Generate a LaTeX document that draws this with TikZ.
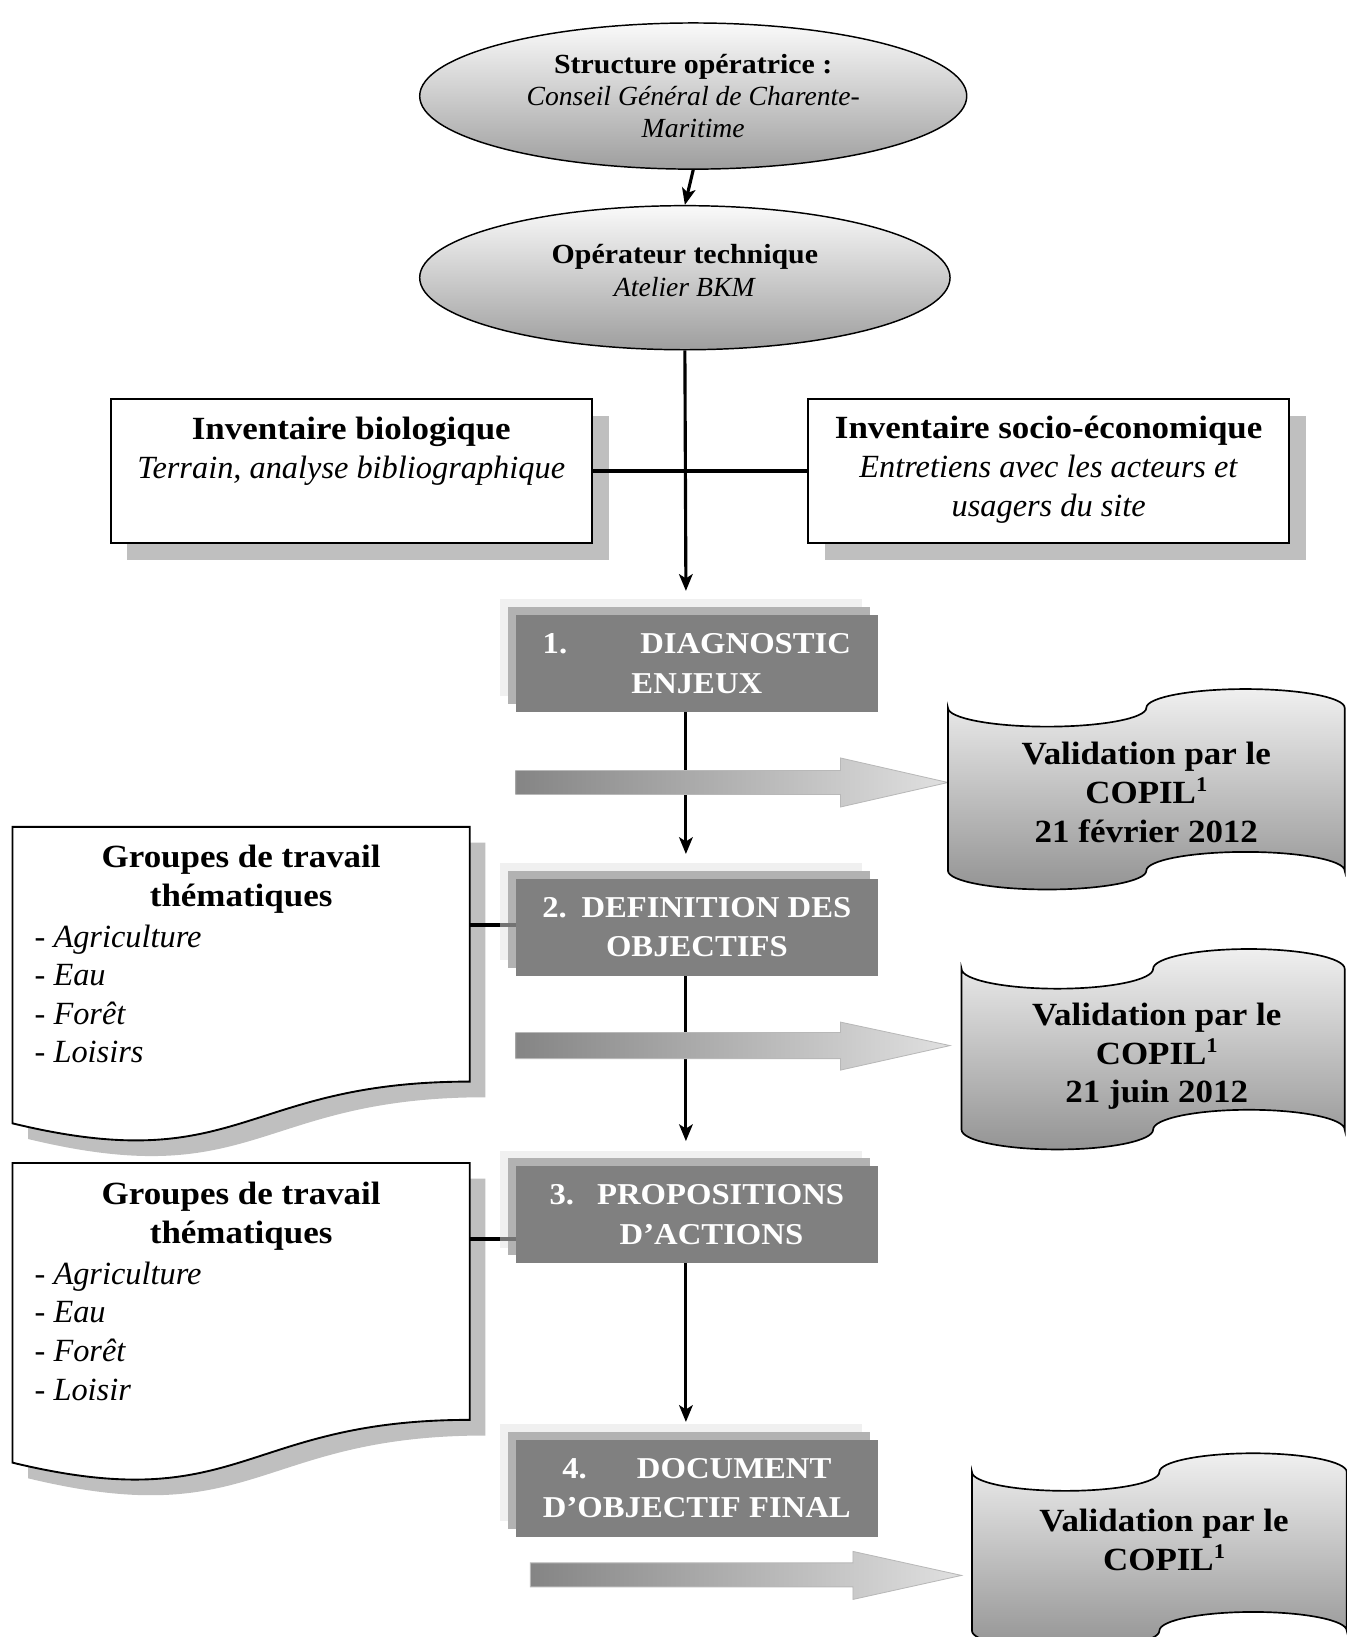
\documentclass[tikz,border=0pt]{standalone}
\usepackage{fontspec}
\setmainfont{Liberation Serif}[BoldFeatures={FakeStretch=1.08}]
\usetikzlibrary{shapes.geometric,arrows.meta,shadows,backgrounds}
\newcommand\supone{\raisebox{0.36em}{\fontsize{20}{20}\selectfont 1}}
\begin{document}
\begin{tikzpicture}[x=1pt,y=-1pt,
  txt/.style={align=center,inner sep=0pt,text=black},
  ft/.style={font=\fontsize{31}{37}\selectfont},
  fe/.style={font=\fontsize{26.5}{31}\selectfont},
  ell/.style={ellipse,draw=black,line width=1.4pt,top color=black!2,bottom color=black!38,inner sep=0pt},
  invbox/.style={rectangle,draw=black,line width=2pt,fill=white,minimum width=461pt,minimum height=138pt,inner sep=0pt,
    general shadow={fill=black!25,shadow xshift=16pt,shadow yshift=-16pt}},
  stepbox/.style={rectangle,fill=black!50,text=white,font=\fontsize{29}{38}\selectfont\bfseries,align=center,
    minimum width=347pt,minimum height=93pt,inner sep=0pt,
    general shadow={fill=black!6,shadow xshift=-15pt,shadow yshift=15pt},
    general shadow={fill=black!30,shadow xshift=-7.5pt,shadow yshift=7.5pt}},
  docbox/.style={draw=black,line width=1.8pt,fill=white},
  docshadow/.style={fill=black!25},
  val/.style={draw=black,line width=1.6pt,top color=black!6,bottom color=black!42},
  gar/.style={draw=black!28,line width=0.8pt,left color=black!48,right color=black!12},
  conn/.style={line width=3pt},
  link/.style={line width=3.5pt},
  linkgray/.style={line width=3.5pt,black!55},
  arr/.style={conn,-{Stealth[length=16pt,width=13pt,inset=4pt]}}
]
\useasboundingbox (0,0) rectangle (1290,1568);
\clip (0,0) rectangle (1290,1568);

% ---- ellipses
\node[ell,minimum width=524pt,minimum height=140pt] (e1) at (664,92) {};
\node[txt,fe] (e1t) at (664,92) {\textbf{Structure opératrice :}\\\textit{Conseil Général de Charente-}\\\textit{Maritime}};
\node[ell,minimum width=508pt,minimum height=138pt] (e2) at (656,266) {};
\node[txt,fe] (e2t) at (656,259) {\textbf{Opérateur technique}\\\textit{Atelier BKM}};

% ---- inventories
\node[invbox] (inv1) at (336.5,451) {};
\node[txt,ft] (inv1t) at (336.5,432) {\textbf{Inventaire biologique}\\\textit{Terrain, analyse bibliographique}};
\node[invbox] (inv2) at (1004.5,451) {};
\node[txt,ft] (inv2t) at (1004.5,450) {\textbf{Inventaire socio-économique}\\\textit{Entretiens avec les acteurs et}\\\textit{usagers du site}};

% ---- step boxes
\node[stepbox] (s1) at (667.5,635.5) {1.\hspace{70pt}DIAGNOSTIC\\ENJEUX};
\node[stepbox] (s2) at (667.5,888) {2.\hspace{14pt}DEFINITION DES\\OBJECTIFS};
\node[stepbox] (s3) at (667.5,1163.5) {3.\hspace{22pt}PROPOSITIONS\\\hspace{28pt}D’ACTIONS};
\node[stepbox] (s4) at (667.5,1425.5) {4.\hspace{48pt}DOCUMENT\\D’OBJECTIF FINAL};

% ---- document shapes (groupes de travail)
\fill[docshadow] (27,807) -- (465,807) -- (465,1051) .. controls (246,1051) and (246,1144) .. (27,1091) -- cycle;
\draw[docbox] (12,792) -- (450,792) -- (450,1036) .. controls (231,1036) and (231,1129) .. (12,1076) -- cycle;
\node[txt,ft] (d1t) at (231,842) {\textbf{Groupes de travail}\\\textbf{thématiques}};
\node[txt,ft,align=left,anchor=west] (d1l) at (33,952) {- \textit{Agriculture}\\- \textit{Eau}\\- \textit{Forêt}\\- \textit{Loisirs}};
\coordinate (d1e) at (450,886);

\fill[docshadow] (27,1129) -- (465,1129) -- (465,1375) .. controls (246,1375) and (246,1469) .. (27,1416) -- cycle;
\draw[docbox] (12,1114) -- (450,1114) -- (450,1360) .. controls (231,1360) and (231,1454) .. (12,1401) -- cycle;
\node[txt,ft] (d2t) at (231,1165) {\textbf{Groupes de travail}\\\textbf{thématiques}};
\node[txt,ft,align=left,anchor=west] (d2l) at (33,1275) {- \textit{Agriculture}\\- \textit{Eau}\\- \textit{Forêt}\\- \textit{Loisir}};
\coordinate (d2e) at (450,1187);

% ---- arrow end points
\coordinate (t1) at (657,566);
\coordinate (t2) at (657,818);
\coordinate (t3) at (657,1093);
\coordinate (t4) at (657,1362);

% ---- connectors between boxes (on top of shadows)
\draw[line width=4pt] (inv1.east) -- (inv2.west);
\draw[link] (d1e) -- ([xshift=-15pt]d1e -| s2.west);
\draw[linkgray] ([xshift=-15pt]d1e -| s2.west) -- (d1e -| s2.west);
\draw[link] (d2e) -- ([xshift=-15pt]d2e -| s3.west);
\draw[linkgray] ([xshift=-15pt]d2e -| s3.west) -- (d2e -| s3.west);

% ---- gray block arrows
\draw[gar] (494,738) -- (805,738) -- (805,726) -- (908,749.5) -- (805,773) -- (805,761) -- (494,761) -- cycle;
\draw[gar] (494,989) -- (805,989) -- (805,979) -- (910,1001.5) -- (805,1025) -- (805,1014) -- (494,1014) -- cycle;
\draw[gar] (508,1497) -- (817,1497) -- (817,1486) -- (921,1509) -- (817,1532) -- (817,1520) -- (508,1520) -- cycle;

% ---- validation shapes
\draw[val] (908,678) arc[start angle=180,end angle=0,x radius=95,y radius=18]
  arc[start angle=180,end angle=360,x radius=95,y radius=18] -- (1288,834)
  arc[start angle=360,end angle=180,x radius=95,y radius=18]
  arc[start angle=0,end angle=180,x radius=95,y radius=18] -- cycle;
\node[txt,ft] (v1t) at (1098,759) {\textbf{Validation par le}\\\textbf{COPIL\supone}\\\textbf{21 février 2012}};

\draw[val] (921,928) arc[start angle=180,end angle=0,x radius=91.75,y radius=19]
  arc[start angle=180,end angle=360,x radius=91.75,y radius=19] -- (1288,1082)
  arc[start angle=360,end angle=180,x radius=91.75,y radius=19]
  arc[start angle=0,end angle=180,x radius=91.75,y radius=19] -- cycle;
\node[txt,ft] (v2t) at (1108,1012) {\textbf{Validation par le}\\\textbf{COPIL\supone}\\\textbf{21 juin 2012}};

\draw[val] (931,1410) arc[start angle=180,end angle=0,x radius=89.75,y radius=18]
  arc[start angle=180,end angle=360,x radius=89.75,y radius=18] -- (1290,1562)
  arc[start angle=360,end angle=180,x radius=89.75,y radius=18]
  arc[start angle=0,end angle=180,x radius=89.75,y radius=18] -- cycle;
\node[txt,ft] (v3t) at (1115,1475) {\textbf{Validation par le}\\\textbf{COPIL\supone}};

% ---- flow arrows
\begin{scope}[on background layer]
\draw[arr] (e1.south) -- (e2.north);
\draw[arr] (e2.south) -- (t1);
\draw[arr] (t2 |- s1.south) -- (t2);
\draw[arr] (t3 |- s2.south) -- (t3);
\draw[arr] (t4 |- s3.south) -- (t4);
\end{scope}
\end{tikzpicture}
\end{document}
